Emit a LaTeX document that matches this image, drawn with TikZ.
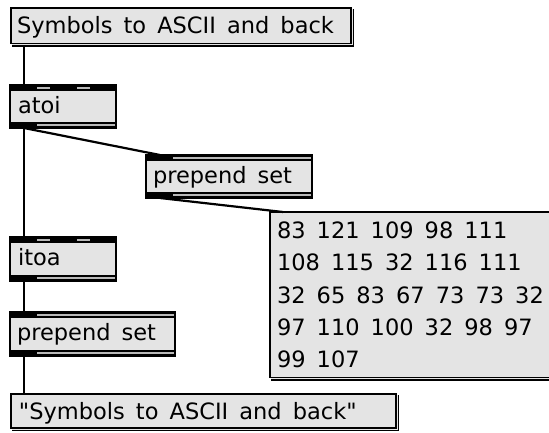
\documentclass[tikz,border=0pt]{standalone}
\usepackage{fontspec}
\newfontfamily\geneva[WordSpace=1.55]{DejaVu Sans}
\definecolor{boxgrey}{RGB}{228,228,228}
\definecolor{bargrey}{RGB}{185,185,185}
\tikzset{
  lbl/.style={font=\geneva\fontsize{22.5}{32.2}\selectfont, inner sep=0pt, outer sep=0pt, text=black},
  boxedge/.style={line width=1.6pt, draw=black},
  cord/.style={line width=2.2pt, draw=black},
  boxbody/.style={fill=boxgrey, inner sep=0pt, outer sep=0pt, anchor=north west, draw=none},
}
% object box: name, x1, y1, x2, y2, inlet ranges, outlet ranges (relative x)
\newcommand{\mxobj}[7]{%
  \node[boxbody, minimum width={#4-#2}, minimum height={#5-#3}] (#1) at (#2,#3) {};
  \fill[black] (#2,#3) rectangle (#4,#3+6.2);
  \fill[black] (#2,#5-6.2) rectangle (#4,#5);
  \fill[bargrey] (#2,#3+2.3) rectangle (#4,#3+4.1);
  \fill[bargrey] (#2,#5-4.1) rectangle (#4,#5-2.3);
  \foreach \a/\b in {#6} {\fill[black] (#2+\a,#3) rectangle (#2+\b,#3+6.2);}
  \foreach \a/\b in {#7} {\fill[black] (#2+\a,#5-6.2) rectangle (#2+\b,#5);}
  \draw[boxedge] (#1.north west) rectangle (#1.south east);
  \coordinate (#1-in) at (#2+14,#3);
  \coordinate (#1-out) at (#2+14,#5);
}
% message box: name, x1, y1, x2, y2
\newcommand{\mxmsg}[5]{%
  \fill[boxgrey] (#2+1,#3+1) rectangle (#4+3,#5+3);
  \node[boxbody, minimum width={#4-#2}, minimum height={#5-#3}] (#1) at (#2,#3) {};
  \draw[boxedge] (#1.north west) rectangle (#1.south east);
  \draw[line width=1.6pt] (#2+1,#5+2.4) -- (#4+2.4,#5+2.4) -- (#4+2.4,#3+1);
  \coordinate (#1-in) at (#2+13,#3);
  \coordinate (#1-out) at (#2+13,#5+3);
}
\begin{document}
\begin{tikzpicture}[x=1pt,y=-1pt]
\useasboundingbox (0,0) rectangle (549,432);
\clip (0,0) rectangle (549,432);
\fill[white] (0,0) rectangle (549,432);

% boxes
\mxmsg{msgtop}{11}{8}{351}{43.5}
\node[lbl, anchor=base west] (msgtopT) at (17,33) {Symbols to ASCII and back};

\mxobj{atoi}{10}{85}{116}{128}{0/27,40/67,80/106}{0/27}
\node[lbl, anchor=base west] (atoiT) at (18,113) {atoi};

\mxobj{preA}{146}{155}{312}{198}{0/27}{0/27}
\node[lbl, anchor=base west] (preAT) at (153,183) {prepend set};

\mxmsg{nums}{270}{212}{570}{377.5}
\node[lbl, align=left, anchor=north west] (numsT) at (277,222)
  {83 121 109 98 111\\108 115 32 116 111\\32 65 83 67 73 73 32\\97 110 100 32 98 97\\99 107};

\mxobj{itoa}{10}{237}{116}{281}{0/27,40/67,80/106}{0/27}
\node[lbl, anchor=base west] (itoaT) at (18,265) {itoa};

\mxobj{preB}{10}{312}{175}{356}{0/27}{0/27}
\node[lbl, anchor=base west] (preBT) at (17,340) {prepend set};

\mxmsg{msgbot}{11}{394}{396}{428}
\node[lbl, anchor=base west] (msgbotT) at (19,419.5) {"Symbols to ASCII and back"};

% cords
\draw[cord] (msgtop-out) -- (atoi-in);
\draw[cord] (atoi-out) -- (itoa-in);
\draw[cord] (atoi-out) -- (preA-in);
\draw[cord] (preA-out) -- (nums-in);
\draw[cord] (itoa-out) -- (preB-in);
\draw[cord] (preB-out) -- (msgbot-in);
\end{tikzpicture}
\end{document}
